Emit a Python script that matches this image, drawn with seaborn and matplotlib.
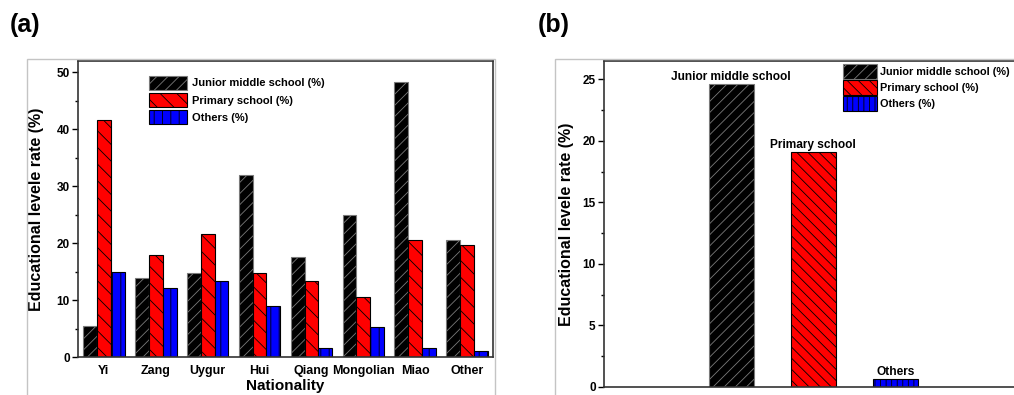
import numpy as np
import pandas as pd
import matplotlib.pyplot as plt
import seaborn as sns
from matplotlib.patches import Rectangle
from matplotlib.ticker import MultipleLocator

# data
nationalities = ["Yi", "Zang", "Uygur", "Hui", "Qiang", "Mongolian", "Miao", "Other"]
junior = [5.5, 13.9, 14.8, 31.9, 17.5, 25.0, 48.3, 20.5]
primary = [41.7, 18.0, 21.6, 14.7, 13.4, 10.6, 20.6, 19.7]
others = [14.9, 12.2, 13.3, 9.0, 1.6, 5.2, 1.6, 1.1]

levels = ["Junior middle school (%)", "Primary school (%)", "Others (%)"]
total_names = ["Junior middle school", "Primary school", "Others"]
total_values = [24.6, 19.1, 0.65]

# styles
face = ["black", "red", "blue"]
edge = ["#7a7a7a", "black", "black"]

sns.set_style("ticks")
plt.rcParams["font.family"] = ["Liberation Sans", "DejaVu Sans"]
plt.rcParams["font.weight"] = "bold"
plt.rcParams["hatch.linewidth"] = 0.6
for key in ["text.color", "axes.labelcolor", "xtick.color", "ytick.color"]:
    plt.rcParams[key] = "black"

df_a = pd.DataFrame({
    "Nationality": nationalities * 3,
    "Level": [levels[0]] * 8 + [levels[1]] * 8 + [levels[2]] * 8,
    "Rate": junior + primary + others,
})
df_b = pd.DataFrame({"Level": total_names, "Rate": total_values})

fig = plt.figure(figsize=(10.14, 3.95), dpi=100)

# grey frames around each panel
fig.patches.append(Rectangle((0.0266, -0.02), 0.4614, 0.8706, transform=fig.transFigure,
                             fill=False, edgecolor="#c4c4c4", lw=1.0))
fig.patches.append(Rectangle((0.547, -0.02), 0.47, 0.8706, transform=fig.transFigure,
                             fill=False, edgecolor="#c4c4c4", lw=1.0))

# ---------------- panel (a) ----------------
ax1 = fig.add_axes([0.0769, 0.0962, 0.4093, 0.7494])
sns.barplot(data=df_a, x="Nationality", y="Rate", hue="Level", hue_order=levels,
            palette=face, width=0.8, saturation=1, legend=False, ax=ax1)
hatch_a = ["///", "\\\\", "||"]
for i, cont in enumerate(ax1.containers):
    for bar in cont:
        bar.set_hatch(hatch_a[i])
        bar.set_edgecolor(edge[i])
        bar.set_linewidth(0.8)
ax1.set_xlim(-0.5, 7.5)
ax1.set_ylim(0, 52)
ax1.yaxis.set_major_locator(MultipleLocator(10))
ax1.yaxis.set_minor_locator(MultipleLocator(5))
ax1.tick_params(axis="y", which="major", length=4, width=1, labelsize=8.5, pad=2)
ax1.tick_params(axis="y", which="minor", length=2.5, width=1)
ax1.tick_params(axis="x", length=0, labelsize=9, pad=6)
ax1.set_xlabel("Nationality", fontsize=11, fontweight="bold")
ax1.set_ylabel("Educational levele rate (%)", fontsize=11.5, fontweight="bold")
ax1.xaxis.set_label_coords(0.5, -0.076)
ax1.yaxis.set_label_coords(-0.083, 0.5)
for t in ax1.get_xticklabels() + ax1.get_yticklabels():
    t.set_fontweight("bold")
for s in ax1.spines.values():
    s.set_linewidth(1.2)
    s.set_color("#333333")
ax1.legend(handles=ax1.containers, labels=levels, loc="upper left",
           bbox_to_anchor=(0.171, 0.95), frameon=False,
           handlelength=3.4, handleheight=1.55, labelspacing=0.3,
           handletextpad=0.45, borderpad=0, borderaxespad=0,
           prop={"weight": "bold", "size": 8})

# ---------------- panel (b) ----------------
ax2 = fig.add_axes([0.5957, 0.0203, 0.424, 0.8253])
sns.barplot(data=df_b, x="Level", y="Rate", hue="Level", palette=face,
            width=0.55, saturation=1, legend=False, ax=ax2)
hatch_b = ["///", "\\\\\\", "|||"]
for i, cont in enumerate(ax2.containers):
    for bar in cont:
        bar.set_hatch(hatch_b[i])
        bar.set_edgecolor(edge[i])
        bar.set_linewidth(0.8)
    ax2.bar_label(cont, labels=[total_names[i]], padding=1, fontsize=8.6, fontweight="bold")
ax2.set_xlim(-1.55, 3.69)
ax2.set_ylim(0, 26.5)
ax2.yaxis.set_major_locator(MultipleLocator(5))
ax2.yaxis.set_minor_locator(MultipleLocator(2.5))
ax2.tick_params(axis="y", which="major", length=4, width=1, labelsize=8.5, pad=2)
ax2.tick_params(axis="y", which="minor", length=2.5, width=1)
ax2.set_xticks([])
ax2.set_xlabel("")
ax2.set_ylabel("Educational levele rate (%)", fontsize=11.5, fontweight="bold")
ax2.yaxis.set_label_coords(-0.07, 0.5)
for t in ax2.get_yticklabels():
    t.set_fontweight("bold")
for s in ax2.spines.values():
    s.set_linewidth(1.2)
    s.set_color("#333333")
ax2.legend(handles=ax2.containers, labels=levels, loc="upper left",
           bbox_to_anchor=(0.556, 0.992), frameon=False,
           handlelength=3.1, handleheight=1.75, labelspacing=0.1,
           handletextpad=0.3, borderpad=0, borderaxespad=0,
           prop={"weight": "bold", "size": 7.8})

fig.text(0.010, 0.937, "(a)", fontsize=18, fontweight="bold", va="center", ha="left")
fig.text(0.530, 0.937, "(b)", fontsize=18, fontweight="bold", va="center", ha="left")

fig.savefig("out.png", dpi=100)
